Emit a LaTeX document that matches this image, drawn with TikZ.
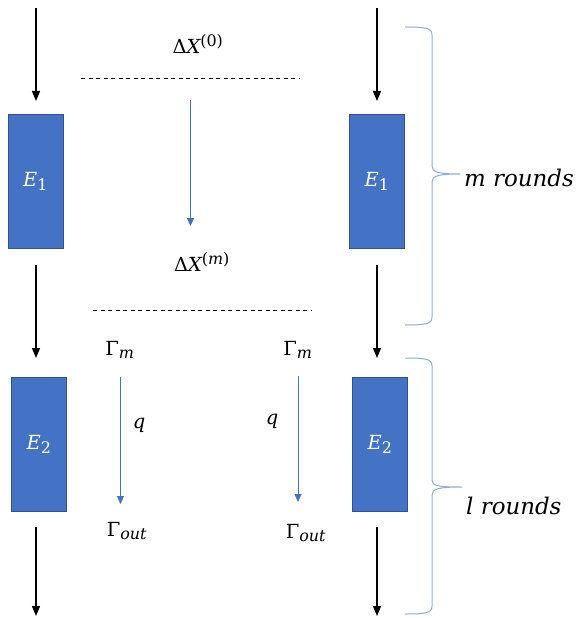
\documentclass[tikz,border=0pt]{standalone}
\usepackage{amsmath}
\usepackage{fontspec}
\newfontfamily\lbl{DejaVu Serif}
\newcommand\vi[1]{\text{\lbl\itshape #1}}
\newcommand\vu[1]{\text{\lbl #1}}
\DeclareMathSizes{19.5}{19.5}{16}{12}
\usetikzlibrary{arrows.meta}
\definecolor{boxblue}{HTML}{4472C4}
\definecolor{boxedge}{HTML}{2F528F}
\definecolor{bracecol}{HTML}{8FAADC}
\begin{document}
\begin{tikzpicture}[x=1bp,y=-1bp,
  every node/.style={font=\fontsize{19.5}{22}\selectfont, inner sep=0pt},
  ebox/.style={draw=boxedge, line width=0.8bp, fill=boxblue, text=white, minimum width=55bp, minimum height=134bp},
  flow/.style={line width=1.3bp, -{Triangle[length=10bp,width=8bp]}},
  bflow/.style={draw=boxblue, line width=0.8bp, -{Triangle[length=8bp,width=7bp]}},
  dline/.style={line width=0.9bp, dash pattern=on 4bp off 3.5bp},
  rbrace/.style={draw=bracecol, line width=1bp},
  rlabel/.style={anchor=west, font=\fontsize{23}{26}\selectfont\lbl\itshape}]
\useasboundingbox (0,0) rectangle (579,618);
% boxes
\node[ebox] (e1l) at (35.5,181.5) {$\vi{E}_{\vu{1}}$};
\node[ebox] (e1r) at (377,181.5) {$\vi{E}_{\vu{1}}$};
\node[ebox] (e2l) at (39,444.5) {$\vi{E}_{\vu{2}}$};
\node[ebox] (e2r) at (380,444.5) {$\vi{E}_{\vu{2}}$};
% arrow coordinates
\coordinate (la0) at (36,8);   \coordinate (la1) at (36,101);
\coordinate (la2) at (36,265); \coordinate (la3) at (36,358);
\coordinate (la4) at (36,527); \coordinate (la5) at (36,616);
\coordinate (ra0) at (377,8);   \coordinate (ra1) at (377,101);
\coordinate (ra2) at (377,265); \coordinate (ra3) at (377,358);
\coordinate (ra4) at (377,527); \coordinate (ra5) at (377,616);
\draw[flow] (la0) -- (la1);
\draw[flow] (la2) -- (la3);
\draw[flow] (la4) -- (la5);
\draw[flow] (ra0) -- (ra1);
\draw[flow] (ra2) -- (ra3);
\draw[flow] (ra4) -- (ra5);
% dashed lines and labels
\node (dx0) at (198,44) {$\vu{Δ}\vi{X}^{\vu{(0)}}$};
\node (dxm) at (202,262) {$\vu{Δ}\vi{X}^{\vu{(}\vi{m}\vu{)}}$};
\coordinate (d1a) at (81,78);  \coordinate (d1b) at (300,78);
\coordinate (d2a) at (93,310); \coordinate (d2b) at (312,310);
\draw[dline] (d1a) -- (d1b);
\draw[dline] (d2a) -- (d2b);
\coordinate (b0a) at (190.5,100); \coordinate (b0b) at (190.5,226);
\draw[bflow] (b0a) -- (b0b);
% Gamma labels
\node (gml) at (120,350) {$\vu{Γ}_{\vi{m}}$};
\node (gmr) at (298,350) {$\vu{Γ}_{\vi{m}}$};
\node (gol) at (127,531) {$\vu{Γ}_{\vi{out}}$};
\node (gor) at (306,533) {$\vu{Γ}_{\vi{out}}$};
\node (ql) at (139,425) {$\vi{q}$};
\node (qr) at (272,421) {$\vi{q}$};
\coordinate (b1a) at (120.5,377); \coordinate (b1b) at (120.5,504);
\coordinate (b2a) at (298,376);   \coordinate (b2b) at (298,502);
\draw[bflow] (b1a) -- (b1b);
\draw[bflow] (b2a) -- (b2b);
% braces
\draw[rbrace] (405,27) .. controls (426,27) and (432,28) .. (432,35) -- (432,166)
  .. controls (432,172) and (438,174) .. (460,174)
  .. controls (438,174) and (432,176) .. (432,182) -- (432,317)
  .. controls (432,324) and (426,325) .. (405,325);
\draw[rbrace] (405,358) .. controls (426,358) and (432,359) .. (432,366) -- (432,480)
  .. controls (432,486) and (438,487) .. (462,487)
  .. controls (438,487) and (432,489) .. (432,495) -- (432,606)
  .. controls (432,613) and (426,614) .. (405,614);
\node[rlabel] (mr) at (464,178) {m rounds};
\node[rlabel] (lr) at (466,506) {l rounds};
\end{tikzpicture}
\end{document}
